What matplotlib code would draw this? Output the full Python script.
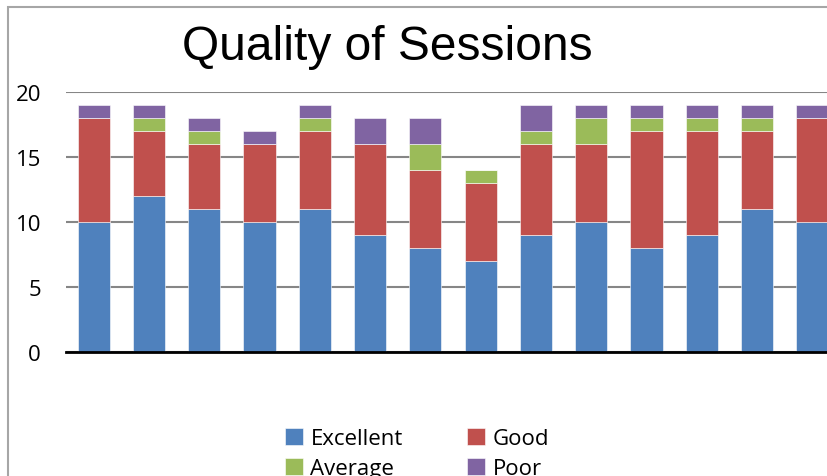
import matplotlib.pyplot as plt
from matplotlib.patches import Rectangle
import numpy as np

sessions = list(range(1, 15))
excellent = [10, 12, 11, 10, 11, 9, 8, 7, 9, 10, 8, 9, 11, 10]
good = [8, 5, 5, 6, 6, 7, 6, 6, 7, 6, 9, 8, 6, 8]
average = [0, 1, 1, 0, 1, 0, 2, 1, 1, 2, 1, 1, 1, 0]
poor = [1, 1, 1, 1, 1, 2, 2, 0, 2, 1, 1, 1, 1, 1]

series = [("Excellent", excellent, "#4F81BD"),
          ("Good", good, "#C0504D"),
          ("Average", average, "#9BBB59"),
          ("Poor", poor, "#8064A2")]

fig = plt.figure(figsize=(8.28, 4.77), dpi=100)
# outer chart border (cut off on right and bottom)
fig.patches.append(Rectangle((8 / 828, -0.1), 1.2, 1.1 - 8 / 477, transform=fig.transFigure,
                             fill=False, edgecolor="#A6A6A6", linewidth=1.5))

ax = fig.add_axes([66 / 828, 124 / 477, 774 / 828, 260 / 477])
x = np.arange(len(sessions))
bottom = np.zeros(len(sessions))
handles = {}
for name, vals, col in series:
    vals = np.array(vals)
    b = ax.bar(x, vals, 0.58, bottom=bottom, color=col, edgecolor="white", linewidth=0.4,
               label=name, zorder=3)
    handles[name] = b
    bottom += vals

ax.set_xlim(-0.5, 13.5)
ax.set_ylim(0, 20)
ax.set_yticks([0, 5, 10, 15, 20])
ax.yaxis.grid(True, color="#868686", linewidth=1.5, zorder=0)
ax.set_xticks([])
for s in ["top", "right", "left"]:
    ax.spines[s].set_visible(False)
ax.spines["bottom"].set_linewidth(2)
ax.spines["bottom"].set_color("black")
ax.spines["bottom"].set_zorder(4)
ax.tick_params(axis="y", length=0, pad=18, labelsize=16)
for t in ax.get_yticklabels():
    t.set_fontfamily("Open Sans")

fig.text(387 / 828, 1 - 47 / 477, "Quality of Sessions", ha="center", va="center",
         fontsize=34.5, fontfamily="Liberation Sans")

order = ["Excellent", "Average", "Good", "Poor"]
fig.legend([handles[n] for n in order], order, ncol=2, loc="upper left",
           bbox_to_anchor=(276 / 828, 1 - 420 / 477), frameon=False, borderaxespad=0,
           prop={"family": "Open Sans", "size": 16}, handlelength=0.8, handleheight=0.8,
           handletextpad=0.35, columnspacing=2.9, labelspacing=0.4)

fig.savefig("out.png", dpi=100)
